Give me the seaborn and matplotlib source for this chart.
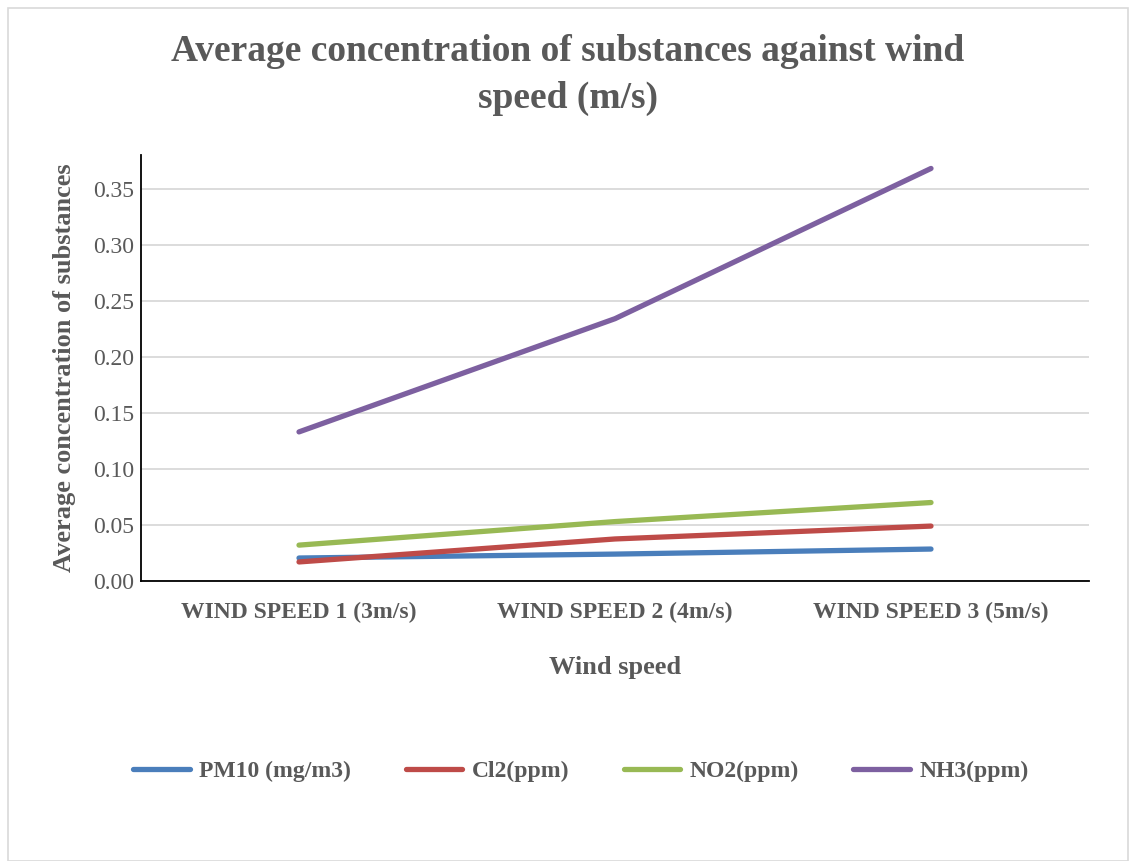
import matplotlib
matplotlib.use("Agg")
import matplotlib.pyplot as plt
import seaborn as sns
import pandas as pd
from matplotlib.patches import Rectangle
from matplotlib.lines import Line2D

categories = ["WIND SPEED 1 (3m/s)", "WIND SPEED 2 (4m/s)", "WIND SPEED 3 (5m/s)"]
pm10 = [0.0205, 0.024, 0.0285]
cl2 = [0.017, 0.0375, 0.049]
no2 = [0.032, 0.053, 0.070]
nh3 = [0.133, 0.234, 0.368]
series_names = ["PM10 (mg/m3)", "Cl2(ppm)", "NO2(ppm)", "NH3(ppm)"]
colors = ["#4a7ebb", "#be4b48", "#98b954", "#7d60a0"]
yticks = [0.00, 0.05, 0.10, 0.15, 0.20, 0.25, 0.30, 0.35]

rows = []
for name, vals in zip(series_names, [pm10, cl2, no2, nh3]):
    for i, v in enumerate(vals):
        rows.append({"x": i, "value": v, "series": name})
df = pd.DataFrame(rows)

sns.set_style("white")
plt.rcParams["font.family"] = ["Liberation Serif", "DejaVu Serif"]
txt = "#595959"

fig = plt.figure(figsize=(11.36, 8.61), dpi=100)
ax = fig.add_axes([141/1136, 1-581/861, (1089-141)/1136, (581-155)/861])

sns.lineplot(data=df, x="x", y="value", hue="series", hue_order=series_names,
             palette=colors, linewidth=3.8, ax=ax, legend=False,
             solid_capstyle="round")

ax.set_xlim(-0.5, 2.5)
ax.set_ylim(0, 0.38)
ax.set_yticks(yticks)
ax.set_yticklabels([f"{t:.2f}" for t in yticks], fontsize=17, color=txt)
ax.set_xticks(range(len(categories)))
ax.set_xticklabels(categories, fontsize=17, fontweight="bold", color=txt)
ax.tick_params(axis="y", length=0, pad=5)
ax.tick_params(axis="x", length=0, pad=15)
ax.yaxis.grid(True, color="#d9d9d9", linewidth=1.3)
ax.set_axisbelow(True)
for s in ["top", "right"]:
    ax.spines[s].set_visible(False)
for s in ["left", "bottom"]:
    ax.spines[s].set_color("black")
    ax.spines[s].set_linewidth(1.3)

ax.set_xlabel("Wind speed", fontsize=19, fontweight="bold", color=txt, labelpad=24)
ax.set_ylabel("Average concentration of substances", fontsize=19, fontweight="bold", color=txt, labelpad=12)

fig.text(0.5, 1-75/861, "Average concentration of substances against wind\nspeed (m/s)",
         ha="center", va="center", fontsize=27, fontweight="bold", color=txt, linespacing=1.45)

handles = [Line2D([0], [0], color=c, lw=3.8, solid_capstyle="round") for c in colors]
fig.legend(handles, series_names, loc="center", bbox_to_anchor=(581/1136, 1-771/861),
           ncol=4, frameon=False, handlelength=2.4, handletextpad=0.4, columnspacing=2.3,
           prop={"family": "Liberation Serif", "weight": "bold", "size": 17},
           labelcolor=txt)

fig.add_artist(Rectangle((8/1136, 0.0), (1128-8)/1136, 1-8/861, transform=fig.transFigure,
                         fill=False, edgecolor="#d9d9d9", linewidth=1.2))

fig.savefig("out.png", dpi=100, facecolor="white")
